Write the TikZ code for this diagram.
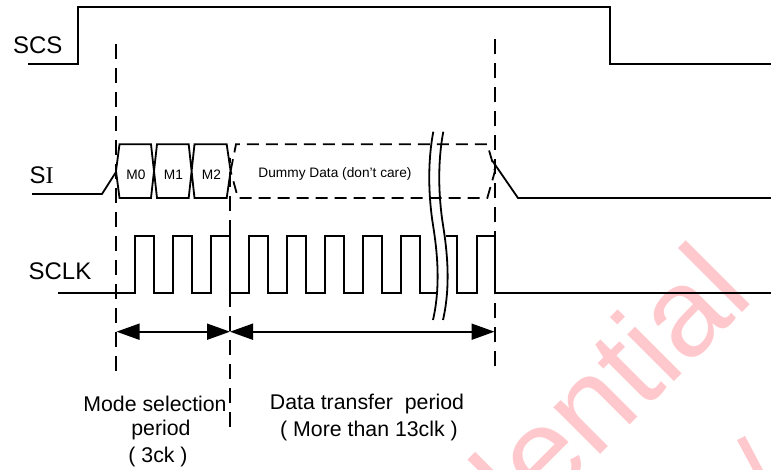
\documentclass[tikz,border=0pt]{standalone}
\usepackage{fontspec}
\setmainfont{Liberation Sans}
\newfontfamily\serifI{Liberation Serif}
\usetikzlibrary{arrows.meta}
\definecolor{wmark}{RGB}{255,200,204}
\tikzset{
	wave/.style={line width=1.8pt},
	guide/.style={line width=1.8pt, dash pattern=on 15pt off 9pt},
	dummy/.style={line width=1.8pt, dash pattern=on 12pt off 7pt},
	span/.style={line width=1.8pt, {Triangle[length=23pt,width=16pt]}-{Triangle[length=23pt,width=16pt]}},
	sig/.style={font=\fontsize{24}{24}\selectfont},
	note/.style={font=\fontsize{21.3}{21.3}\selectfont},
	bits/.style={font=\fontsize{13.7}{13.7}\selectfont}
}

\begin{document}
\begin{tikzpicture}[x=1pt, y=-1pt]
		%%%%% START %%%%%
		\path[use as bounding box, clip] (0, 0) rectangle (771, 470);
		
		\node[anchor=base east, rotate=45, color=wmark, font=\fontsize{125}{125}\selectfont] (stamp) at (759, 296) {Confidential};
		\fill[wmark] (737, 440) -- (745, 436) -- (763, 470) -- (753, 470) -- cycle;
		
		\node[sig] (scs) at (37.8, 45) {SCS};
		\node[sig] (si) at (41.5, 175) {S{\serifI I}};
		\node[sig] (sclk) at (60, 271) {SCLK};
		
		\draw[wave] (28, 64) -- (78.3, 64) -- (78.3, 6.7) -- (609.7, 6.7) -- (609.7, 64) -- (771, 64);
		
		\draw[wave] (32, 194) -- (102, 194) -- (116, 172);
		\draw[wave] (116, 171) -- (119.5, 144.3) -- (151, 144.3) -- (157, 198) -- (188.7, 198) -- (194.5, 144.3) -- (226.7, 144.3) -- (230.6, 171) -- (226.7, 198) -- (194.5, 198) -- (188.7, 144.3) -- (157, 144.3) -- (151, 198) -- (119.5, 198) -- cycle;
		\draw[wave] (492.5, 161) -- (518, 198) -- (771, 198);
		\draw[dummy] (230.6, 171) -- (236, 144.3) -- (487.3, 144.3) -- (495, 171) -- (487.3, 198) -- (238, 198) -- cycle;
		
		\node[bits] (m0) at (136, 175) {M0};
		\node[bits] (m1) at (173.5, 175) {M1};
		\node[bits] (m2) at (211.5, 175) {M2};
		\node[bits] (dont) at (335, 174) {Dummy Data (don't care)};
		
		\draw[wave] (58, 293.3) -- (135, 293.3) -- (135, 236) -- (154.3, 236) -- (154.3, 293.3) -- (173.3, 293.3) -- (173.3, 236) -- (192.3, 236) -- (192.3, 293.3) -- (211, 293.3) -- (211, 236) -- (230, 236) -- (230, 293.3) -- (248.7, 293.3) -- (248.7, 236) -- (268, 236) -- (268, 293.3) -- (286.7, 293.3) -- (286.7, 236) -- (306, 236) -- (306, 293.3) -- (324.7, 293.3) -- (324.7, 236) -- (343.7, 236) -- (343.7, 293.3) -- (362.7, 293.3) -- (362.7, 236) -- (381.7, 236) -- (381.7, 293.3) -- (400.7, 293.3) -- (400.7, 236) -- (420, 236) -- (420, 293.3) -- (437, 293.3);
		\draw[wave] (446, 236) -- (457.3, 236) -- (457.3, 293.3) -- (476.7, 293.3) -- (476.7, 236) -- (495.3, 236) -- (495.3, 293.3) -- (771, 293.3);
		
		\draw[wave] (433.3, 131.7) .. controls (427, 165) and (429, 200) .. (433, 225) .. controls (437, 250) and (441, 285) .. (433, 320);
		\draw[wave] (443.3, 131.7) .. controls (437, 165) and (439, 200) .. (443, 225) .. controls (447, 250) and (451, 285) .. (443, 320);
		
		\draw[guide] (116, 44) -- (116, 374);
		\draw[guide] (230, 427) -- (230, 158);
		\draw[guide] (495, 39) -- (495, 370);
		
		\coordinate (selL) at (116.5, 331.7);
		\coordinate (mid) at (230, 331.7);
		\coordinate (endR) at (494.5, 331.7);
		\draw[span] (selL) -- (mid);
		\draw[span] (mid) -- (endR);
		
		\node[note] (sel1) at (155, 404) {Mode selection};
		\node[note] (sel2) at (161, 430) {period};
		\node[note] (sel3) at (158, 457) {( 3ck )};
		\node[note] (data1) at (367, 404) {Data transfer\ \ period};
		\node[note] (data2) at (369, 431) {( More than 13clk )};
		
		%%%%% END %%%%%
	\end{tikzpicture}
\end{document}
